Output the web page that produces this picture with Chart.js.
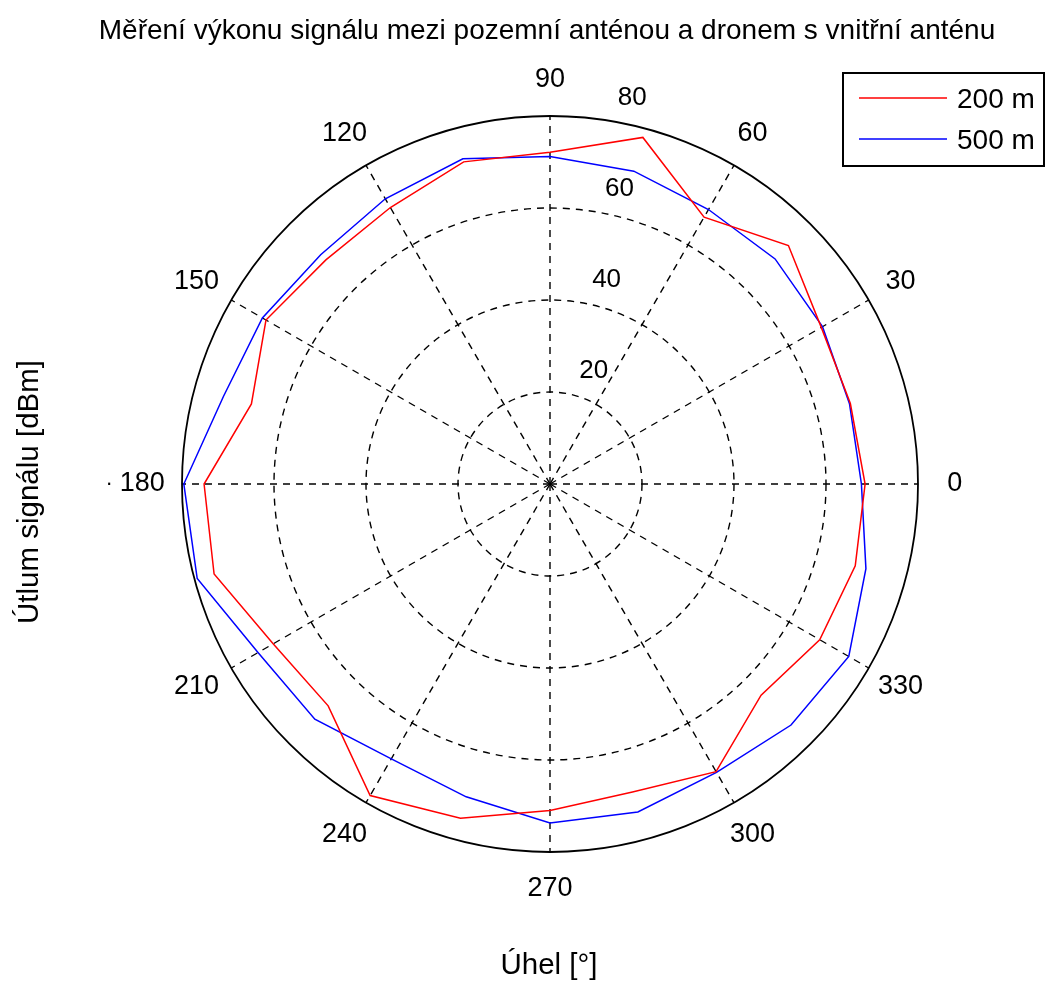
<!DOCTYPE html>
<html lang="cs">
<head>
<meta charset="utf-8">
<title>Měření výkonu signálu</title>
<script src="https://cdn.jsdelivr.net/npm/chart.js@4/dist/chart.umd.min.js"></script>
<style>
  html, body { margin: 0; padding: 0; background: #ffffff; }
  #wrap { position: relative; width: 1050px; height: 987px; }
  canvas { display: block; }
</style>
</head>
<body>
<div id="wrap"><canvas id="polar" width="1050" height="987"></canvas></div>
<script>
// Measurement angles in degrees (0 = right, counter-clockwise)
const angles = [0, 15, 30, 45, 60, 75, 90, 105, 120, 135, 150, 165,
                180, 195, 210, 225, 240, 255, 270, 285, 300, 315, 330, 345];

// Signal attenuation [dBm] at 200 m
const loss200 = [68.5, 67.6, 68.1, 73.3, 67.0, 78.0, 72.1, 72.5, 69.4, 68.9, 71.3, 67.2,
                 75.2, 75.6, 69.5, 68.2, 78.2, 75.2, 71.0, 69.3, 72.2, 64.9, 67.7, 68.7];

// Signal attenuation [dBm] at 500 m
const loss500 = [67.7, 67.4, 68.4, 69.2, 68.9, 70.4, 71.2, 73.2, 71.6, 70.5, 72.2, 73.5,
                 79.6, 79.4, 73.3, 72.3, 69.0, 70.4, 73.7, 73.8, 72.4, 74.1, 75.0, 71.1];

const seriesNames = ['200 m', '500 m'];
const seriesColors = ['#ff0000', '#0000ff'];

// Radial ticks and the angles that get a spoke and a label
const radialTicks = [20, 40, 60, 80];
const spokeAngles = [0, 30, 60, 90, 120, 150, 180, 210, 240, 270, 300, 330];

const titleText = 'Měření výkonu signálu mezi pozemní anténou a dronem s vnitřní anténu';
const xLabelText = 'Úhel [°]';
const yLabelText = 'Útlum signálu [dBm]';

const FONT = '"Liberation Sans", Arial, Helvetica, sans-serif';
const DASH = [7, 6];

// The radar scale runs clockwise from its start angle; starting at the right
// (90° clockwise from top) and walking the angles downwards gives the usual
// counter-clockwise polar layout.
const order = angles.map((_, i) => (360 - i * 15) % 360);
const pick = (arr) => order.map(a => arr[angles.indexOf(a)]);

const decorations = {
  id: 'polarDecorations',
  afterDraw(chart) {
    const ctx = chart.ctx;
    const r = chart.scales.r;
    ctx.save();
    ctx.fillStyle = '#000';
    ctx.textAlign = 'center';
    ctx.textBaseline = 'middle';

    // angular labels, centred at 1.1 × outer radius
    ctx.font = '27px ' + FONT;
    order.forEach((a, i) => {
      if (!spokeAngles.includes(a)) return;
      const p = r.getPointPosition(i, r.drawingArea * 1.1);
      const shift = p.x < r.xCenter - 5 ? -3 : 0;
      ctx.fillText(String(a), p.x + shift, p.y);
      if (a === 180) {
        ctx.font = '22px ' + FONT;
        ctx.fillText('·', p.x - 36, p.y);
        ctx.font = '27px ' + FONT;
      }
    });

    // radial tick labels along the 82° ray
    ctx.font = '26px ' + FONT;
    const t = 82 * Math.PI / 180;
    radialTicks.forEach(v => {
      const d = r.getDistanceFromCenterForValue(v);
      const x = r.xCenter + d * Math.cos(t) + 31;
      const y = r.yCenter - d * Math.sin(t) - 22;
      ctx.fillText(String(v), x, y);
    });

    // title and axis labels
    ctx.font = '28px ' + FONT;
    ctx.fillText(titleText, 547, 31);
    ctx.font = '29.5px ' + FONT;
    ctx.fillText(xLabelText, 549, 966);
    ctx.save();
    ctx.translate(30, 492);
    ctx.rotate(-Math.PI / 2);
    ctx.fillText(yLabelText, 0, 0);
    ctx.restore();

    // legend box
    const bx = 843, by = 73, bw = 201, bh = 93;
    ctx.fillStyle = '#fff';
    ctx.fillRect(bx, by, bw, bh);
    ctx.strokeStyle = '#000';
    ctx.lineWidth = 2;
    ctx.strokeRect(bx, by, bw, bh);
    ctx.font = '28px ' + FONT;
    ctx.textAlign = 'left';
    chart.data.datasets.forEach((ds, k) => {
      const ly = 98 + k * 41;
      ctx.strokeStyle = ds.borderColor;
      ctx.lineWidth = 1.5;
      ctx.beginPath();
      ctx.moveTo(859, ly);
      ctx.lineTo(947, ly);
      ctx.stroke();
      ctx.fillStyle = '#000';
      ctx.fillText(ds.label, 957, ly + 2);
    });
    ctx.restore();
  }
};

new Chart(document.getElementById('polar'), {
  type: 'radar',
  data: {
    labels: order.map(String),
    datasets: [
      { label: seriesNames[0], data: pick(loss200), borderColor: seriesColors[0] },
      { label: seriesNames[1], data: pick(loss500), borderColor: seriesColors[1] }
    ].map(ds => Object.assign(ds, {
      backgroundColor: 'transparent',
      borderWidth: 1.5,
      pointRadius: 0,
      pointHoverRadius: 0,
      tension: 0,
      fill: false
    }))
  },
  options: {
    responsive: false,
    animation: false,
    events: [],
    layout: { padding: { left: 182, right: 131, top: 116, bottom: 134 } },
    plugins: {
      legend: { display: false },
      title: { display: false },
      tooltip: { enabled: false }
    },
    scales: {
      r: {
        min: 0,
        max: 80,
        startAngle: 90,
        ticks: { display: false, stepSize: 20 },
        pointLabels: { display: false },
        grid: {
          circular: true,
          color: '#000',
          lineWidth: c => (c.tick && c.tick.value === 80) ? 1.8 : 1.4
        },
        border: {
          dash: c => (c.tick && c.tick.value === 80) ? [] : DASH
        },
        angleLines: {
          display: true,
          color: c => spokeAngles.includes(order[c.index]) ? '#000' : 'rgba(0,0,0,0)',
          lineWidth: c => spokeAngles.includes(order[c.index]) ? 1.4 : 0,
          borderDash: DASH
        }
      }
    }
  },
  plugins: [decorations]
});
</script>
</body>
</html>
